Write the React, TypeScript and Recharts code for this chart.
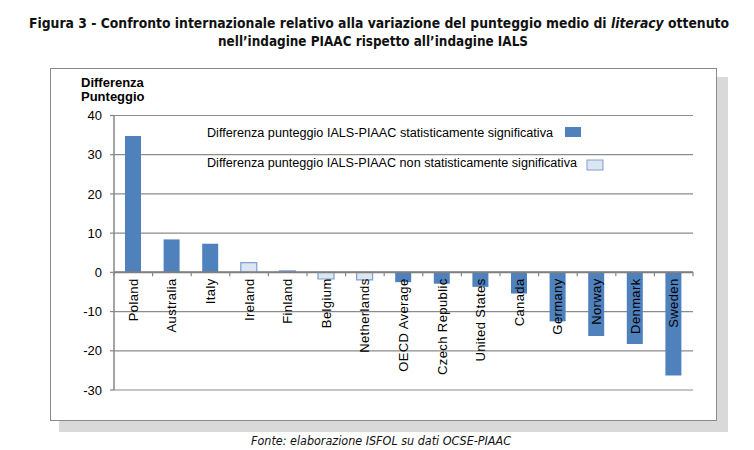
import React from "react";
import { BarChart, Bar, XAxis, YAxis, CartesianGrid, ReferenceLine, Legend } from "recharts";

// Differenza punteggio IALS-PIAAC per paese
const countries = [
  "Poland",
  "Australia",
  "Italy",
  "Ireland",
  "Finland",
  "Belgium",
  "Netherlands",
  "OECD Average",
  "Czech Republic",
  "United States",
  "Canada",
  "Germany",
  "Norway",
  "Denmark",
  "Sweden",
];
const scoreDiff = [34.8, 8.4, 7.3, 2.5, 0.4, -1.7, -1.9, -2.5, -2.9, -3.7, -5.4, -12.5, -16.2, -18.3, -26.3];
const significant = [true, true, true, false, false, false, false, true, true, true, true, true, true, true, true];
const yTicks = [-30, -20, -10, 0, 10, 20, 30, 40];

const SIG_LABEL = "Differenza punteggio IALS-PIAAC statisticamente significativa";
const NONSIG_LABEL = "Differenza punteggio IALS-PIAAC non statisticamente significativa";

const SIG_COLOR = "#4f81bd";
const NONSIG_COLOR = "#dce6f2";
const NONSIG_STROKE = "#7f9fcf";
const AXIS_COLOR = "#868686";

// plot geometry
const W = 754;
const H = 450;
const PLOT_LEFT = 114;
const PLOT_RIGHT = 693;
const PLOT_TOP = 115.5;
const PLOT_BOTTOM = 390;
const Y_MIN = -30;
const Y_MAX = 40;
const PLOT_H = PLOT_BOTTOM - PLOT_TOP;
const BAND = (PLOT_RIGHT - PLOT_LEFT) / countries.length;
const ZERO_Y = PLOT_TOP + (Y_MAX / (Y_MAX - Y_MIN)) * PLOT_H;

const data = countries.map((c, i) => ({
  country: c,
  sig: significant[i] ? scoreDiff[i] : null,
  nonsig: significant[i] ? null : scoreDiff[i],
}));

function CountryTick(props: any) {
  const { x, payload, index } = props;
  const ty = ZERO_Y + 6;
  return (
    <g>
      <line x1={x - BAND / 2} x2={x - BAND / 2} y1={ZERO_Y} y2={ZERO_Y + 4} stroke={AXIS_COLOR} strokeWidth={1.2} />
      {index === countries.length - 1 && (
        <line x1={x + BAND / 2} x2={x + BAND / 2} y1={ZERO_Y} y2={ZERO_Y + 4} stroke={AXIS_COLOR} strokeWidth={1.2} />
      )}
      <text
        x={x}
        y={ty}
        dy="0.35em"
        transform={`rotate(-90 ${x} ${ty})`}
        textAnchor="end"
        fontSize={13}
        letterSpacing={0.4}
        fontFamily="'Liberation Sans', Arial, sans-serif"
        fill="#000"
      >
        {payload.value}
      </text>
    </g>
  );
}

function LegendBox(props: any) {
  const items = props.payload || [];
  const rows = [
    { y: 136.5, tx: 207, tw: 346, sx: 565, sy: 127, key: "sig" },
    { y: 166.5, tx: 207, tw: 370, sx: 587, sy: 160, key: "nonsig" },
  ];
  return (
    <svg width={W} height={200} style={{ display: "block" }}>
      {rows.map((r) => {
        const it = items.find((p: any) => p.dataKey === r.key);
        if (!it) return null;
        return (
          <g key={r.key}>
            <text
              x={r.tx}
              y={r.y}
              fontSize={12.5}
              fontFamily="'Liberation Sans', Arial, sans-serif"
              fill="#000"
              textLength={r.tw}
              lengthAdjust="spacingAndGlyphs"
            >
              {it.value}
            </text>
            <rect
              x={r.sx}
              y={r.sy}
              width={16}
              height={10}
              fill={it.color}
              stroke={r.key === "nonsig" ? NONSIG_STROKE : "none"}
              strokeWidth={1}
            />
          </g>
        );
      })}
    </svg>
  );
}

export default function App() {
  return (
    <div style={{ position: "absolute", left: 0, top: 0, width: W, height: H, background: "#fff" }}>
      <svg width={W} height={H} style={{ position: "absolute", left: 0, top: 0 }}>
        <text
          x={379}
          y={27.5}
          textAnchor="middle"
          fontSize={14}
          fontWeight="bold"
          fontFamily="'DejaVu Sans Condensed', 'DejaVu Sans', sans-serif"
          fill="#111"
          textLength={700}
          lengthAdjust="spacingAndGlyphs"
        >
          Figura 3 - Confronto internazionale relativo alla variazione del punteggio medio di{" "}
          <tspan fontStyle="italic">literacy</tspan> ottenuto
        </text>
        <text
          x={373}
          y={46}
          textAnchor="middle"
          fontSize={14}
          fontWeight="bold"
          fontFamily="'DejaVu Sans Condensed', 'DejaVu Sans', sans-serif"
          fill="#111"
          textLength={310}
          lengthAdjust="spacingAndGlyphs"
        >
          nell’indagine PIAAC rispetto all’indagine IALS
        </text>
        <text
          x={381}
          y={445}
          textAnchor="middle"
          fontSize={12}
          fontStyle="italic"
          fontFamily="'DejaVu Sans', sans-serif"
          fill="#111"
          textLength={260}
          lengthAdjust="spacingAndGlyphs"
        >
          Fonte: elaborazione ISFOL su dati OCSE-PIAAC
        </text>
      </svg>
      <div style={{ position: "absolute", left: 59, top: 77, width: 669, height: 355, background: "#d9d9d9" }} />
      <div
        style={{
          position: "absolute",
          left: 50,
          top: 68,
          width: 667,
          height: 353,
          boxSizing: "border-box",
          border: "1.5px solid #8a8a8a",
          background: "#fff",
        }}
      />
      <div
        style={{
          position: "absolute",
          left: 81,
          top: 76,
          fontFamily: "'Liberation Sans', Arial, sans-serif",
          fontWeight: "bold",
          fontSize: 13,
          lineHeight: "14px",
          color: "#000",
        }}
      >
        Differenza
        <br />
        Punteggio
      </div>
      <div style={{ position: "absolute", left: 0, top: 0 }}>
        <BarChart
          width={W}
          height={H}
          data={data}
          margin={{ top: PLOT_TOP, right: W - PLOT_RIGHT, left: PLOT_LEFT - 50, bottom: H - PLOT_BOTTOM - 10 }}
        >
          <CartesianGrid vertical={false} stroke="#8c8c8c" strokeWidth={1.2} />
          <YAxis
            width={50}
            domain={[Y_MIN, Y_MAX]}
            ticks={yTicks}
            interval={0}
            axisLine={{ stroke: AXIS_COLOR, strokeWidth: 1.5 }}
            tickLine={{ stroke: AXIS_COLOR, strokeWidth: 1.2 }}
            tickSize={4}
            tickMargin={8}
            tick={{ fill: "#000", fontSize: 13, fontFamily: "'Liberation Sans', Arial, sans-serif" }}
          />
          <Legend
            layout="horizontal"
            verticalAlign="middle"
            align="center"
            wrapperStyle={{ position: "absolute", left: 0, top: 0, width: W }}
            content={<LegendBox />}
          />
          <Bar dataKey="sig" name={SIG_LABEL} stackId="a" fill={SIG_COLOR} barSize={16} isAnimationActive={false} />
          <Bar
            dataKey="nonsig"
            name={NONSIG_LABEL}
            stackId="a"
            fill={NONSIG_COLOR}
            stroke={NONSIG_STROKE}
            strokeWidth={1.2}
            barSize={16}
            isAnimationActive={false}
          />
          <ReferenceLine y={0} stroke="#7f7f7f" strokeWidth={2} />
          <XAxis
            dataKey="country"
            interval={0}
            height={10}
            axisLine={false}
            tickLine={false}
            tick={<CountryTick />}
          />
        </BarChart>
      </div>
    </div>
  );
}
